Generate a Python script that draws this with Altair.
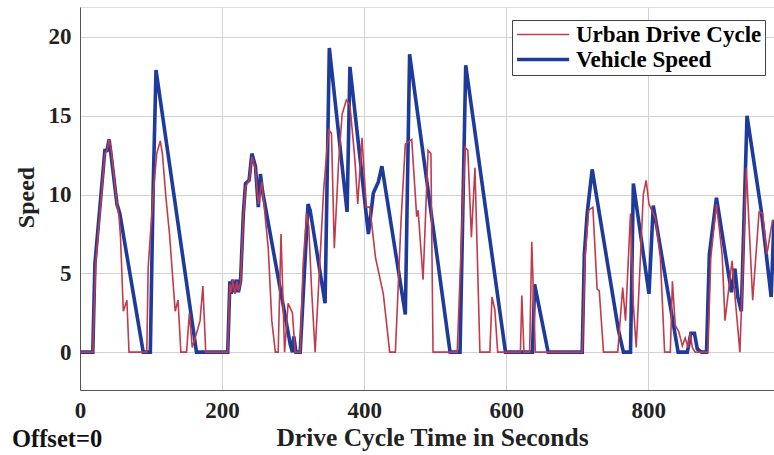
import altair as alt
import pandas as pd

# ---- data ----
urban_t = [0, 18, 22, 35, 38, 41, 44, 52, 55, 57, 61, 66, 69, 94, 96, 103, 108, 113, 116, 121, 126, 134, 138, 142,
           150, 154, 158, 166, 169, 173, 177, 208, 211, 213, 215, 218, 221, 223, 226, 230, 233, 238, 242, 247, 251,
           256, 262, 265, 270, 275, 279, 283, 288, 293, 299, 303, 310, 314, 319, 322, 326, 331, 343, 350, 354, 358,
           364, 369, 375, 380, 387, 391, 397, 403, 408, 416, 427, 436, 444, 452, 458, 467, 474, 476, 483, 490, 494,
           497, 531, 542, 546, 551, 556, 563, 577, 580, 584, 588, 620, 622, 625, 633, 636, 641, 707, 711, 716, 722,
           728, 731, 737, 757, 764, 768, 771, 775, 779, 783, 786, 793, 797, 801, 810, 817, 823, 831, 834, 838, 843,
           848, 852, 856, 859, 862, 866, 884, 888, 896, 904, 908, 918, 921, 929, 938, 947, 956, 961, 967, 975]
urban_v = [0, 0, 5.6, 12.6, 12.8, 13.5, 12.8, 9.4, 8.6, 7.3, 2.6, 3.3, 0, 0, 5.4, 10.0, 12.6, 13.4, 12.6, 9.8, 7.5,
           2.6, 3.3, 0, 0, 2.5, 0.3, 1.5, 2.0, 4.2, 0, 0, 4.3, 3.8, 4.6, 3.7, 4.5, 3.9, 4.4, 8.6, 10.5, 10.9, 12.4,
           11.6, 9.4, 10.8, 8.0, 6.6, 2.0, 0, 0, 7.5, 0, 3.1, 2.5, 0, 0, 5.5, 8.8, 8.0, 4.0, 0, 10.3, 14.1, 13.9,
           6.6, 12.0, 15.1, 16.0, 15.7, 12.2, 9.4, 13.6, 9.2, 9.2, 6.0, 3.7, 0, 0, 8.4, 13.2, 13.5, 8.6, 9.0, 4.6,
           12.8, 12.6, 0, 0, 13.0, 12.8, 7.3, 11.7, 0, 0, 3.5, 2.7, 0, 0, 3.6, 0, 0, 7.0, 0, 0, 6.0, 9.0, 9.2,
           4.0, 3.9, 0, 0, 4.1, 2.0, 5.0, 8.8, 3.0, 0.3, 3.1, 10.0, 10.9, 9.4, 8.5, 6.0, 0, 0, 4.5, 1.7, 1.3,
           0.4, 0.9, 0.3, 1.2, 0.3, 0, 0, 6.0, 9.4, 6.2, 2.0, 5.8, 4.1, 0, 11.7, 3.3, 8.9, 8.8, 6.2, 8.4]

vehicle_t = [0, 18, 21, 35, 38, 41, 43, 52, 56, 89, 99, 103, 107, 164, 208, 211, 213, 215, 218, 221, 223, 226, 230,
             233, 238, 242, 247, 251, 254, 257, 296, 299, 301, 304, 310, 321, 324, 345, 351, 376, 380, 406, 413,
             420, 425, 458, 464, 521, 535, 543, 599, 637, 640, 659, 707, 710, 714, 721, 758, 765, 775, 779, 801,
             807, 842, 855, 860, 865, 869, 875, 882, 886, 896, 917, 922, 926, 931, 939, 959, 973, 977]
vehicle_v = [0, 0, 5.6, 12.8, 12.8, 13.5, 12.8, 9.4, 8.8, 0, 0, 10.4, 17.9, 0, 0, 4.5, 3.7, 4.6, 3.8, 4.6, 3.8,
             4.5, 8.8, 10.7, 10.9, 12.6, 11.8, 9.2, 11.3, 10.2, 0.5, 0, 1.0, 0, 0, 9.4, 9.0, 3.1, 19.3, 8.9, 18.1,
             7.5, 10.1, 10.8, 11.8, 2.4, 18.9, 0, 0, 18.2, 0, 0, 4.3, 0, 0, 6.2, 8.8, 11.6, 1.4, 0, 0, 10.7, 3.7,
             9.3, 0, 0, 1.2, 1.2, 0.2, 0, 0, 6.2, 9.8, 3.8, 5.3, 3.5, 2.6, 15.0, 9.0, 3.5, 8.4]

series_names = ["Urban Drive Cycle", "Vehicle Speed"]
series_colors = ["#C23A4B", "#1E3A9A"]
series_widths = [1.6, 3.6]
x_ticks = [0, 200, 400, 600, 800]
y_ticks = [0, 5, 10, 15, 20]
annotation = ["Offset=0"]

df = pd.concat([
    pd.DataFrame({"t": urban_t, "v": urban_v, "series": series_names[0]}),
    pd.DataFrame({"t": vehicle_t, "v": vehicle_v, "series": series_names[1]}),
], ignore_index=True)

FONT = "Liberation Serif"

legend = alt.Legend(
    title=None, orient="none", legendX=432, legendY=13,
    symbolType="M-1,0H4", symbolSize=433, labelOffset=36, labelLimit=0,
    fillColor="white", strokeColor="#444", padding=3, rowPadding=0,
    labelFont=FONT, labelFontWeight="bold", labelFontSize=23, labelColor="black",
)

x_enc = alt.X("t:Q", scale=alt.Scale(domain=[0, 977], nice=False, zero=False),
              axis=alt.Axis(values=x_ticks, title="Drive Cycle Time in Seconds", format="d",
                            titleFont=FONT, titleFontWeight="bold", titleFontSize=25.5, titleColor="#222",
                            titleX=352, titleY=55, titleBaseline="alphabetic",
                            labelFont=FONT, labelFontWeight="bold", labelFontSize=23, labelColor="#222",
                            labelPadding=9, ticks=False, domainColor="#555",
                            gridColor="#d2d2d2", labelFlush=False))
y_enc = alt.Y("v:Q", scale=alt.Scale(domain=[-2.4, 21.9], nice=False, zero=False),
              axis=alt.Axis(values=y_ticks, title="Speed",
                            titleFont=FONT, titleFontWeight="bold", titleFontSize=24, titleColor="#222",
                            titleX=-47, titleY=190, titleBaseline="alphabetic", titleAlign="center",
                            labelFont=FONT, labelFontWeight="bold", labelFontSize=23, labelColor="#222",
                            labelPadding=9, ticks=False, domainColor="#555",
                            gridColor="#d2d2d2"))
color_enc = alt.Color("series:N", scale=alt.Scale(domain=series_names, range=series_colors), legend=legend)
width_enc = alt.StrokeWidth("series:N", scale=alt.Scale(domain=series_names, range=series_widths), legend=legend)

blue = alt.Chart(df).transform_filter(alt.datum.series == series_names[1]).mark_line(clip=True).encode(
    x=x_enc, y=y_enc, color=color_enc, strokeWidth=width_enc, order="t:Q")
red = alt.Chart(df).transform_filter(alt.datum.series == series_names[0]).mark_line(clip=True).encode(
    x=x_enc, y=y_enc, color=color_enc, strokeWidth=width_enc, order="t:Q")

note = alt.Chart(pd.DataFrame({"label": annotation})).mark_text(
    align="left", baseline="alphabetic", font=FONT, fontWeight="bold", fontSize=24.5, color="#111"
).encode(text="label:N", x=alt.value(-68), y=alt.value(440))

chart = alt.layer(blue, red, note).properties(
    width=694, height=383,
    padding={"left": 80, "top": 7, "right": 0, "bottom": 65},
    autosize=alt.AutoSizeParams(type="none"),
).configure_view(stroke="#8a8a8a", strokeWidth=1).configure(background="white")

chart.save("out.html", embed_options={"renderer": "svg", "actions": False})
